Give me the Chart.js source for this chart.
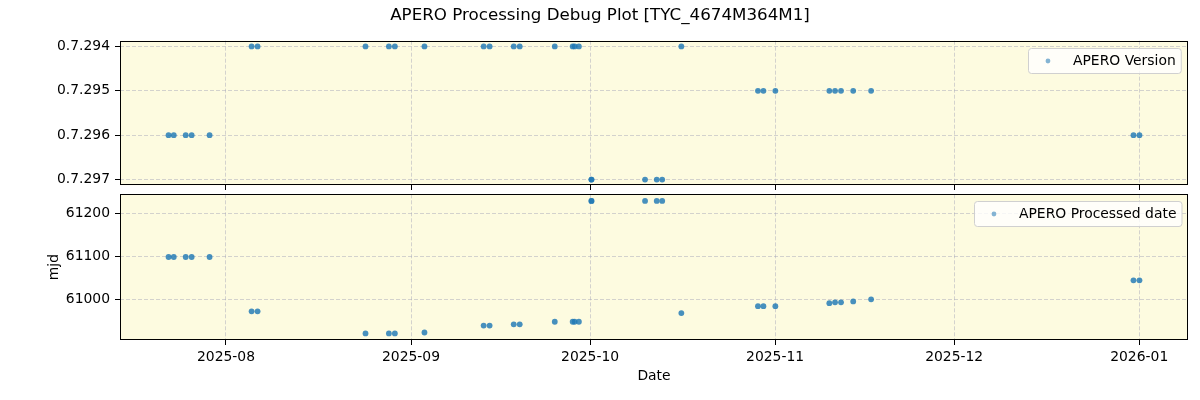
<!DOCTYPE html>
<html>
<head>
<meta charset="utf-8">
<script src="https://cdn.jsdelivr.net/npm/chart.js@4/dist/chart.umd.min.js"></script>
<style>
  html, body { margin: 0; padding: 0; background: #fff; }
  #wrap { position: relative; width: 1200px; height: 400px; }
  .box { position: absolute; left: 0; width: 1200px; }
</style>
</head>
<body>
<div id="wrap">
  <div class="box" style="top:0;height:190px"><canvas id="topChart"></canvas></div>
  <div class="box" style="top:190px;height:210px"><canvas id="bottomChart"></canvas></div>
</div>
<script>
// observation dates (UTC)
const obsDates = [
  '2025-07-22T09:00', '2025-07-23T06:00', '2025-07-25T06:00', '2025-07-26T06:00', '2025-07-29T06:00',
  '2025-08-05T07:00', '2025-08-06T07:00', '2025-08-24T09:00', '2025-08-28T07:00', '2025-08-29T07:00',
  '2025-09-03T06:00', '2025-09-13T04:00', '2025-09-14T04:00', '2025-09-18T05:00', '2025-09-19T05:00',
  '2025-09-25T02:00', '2025-09-28T02:00', '2025-09-28T10:00', '2025-09-29T03:00',
  '2025-10-01T05:00', '2025-10-01T06:00', '2025-10-10T05:00', '2025-10-12T04:00', '2025-10-13T02:00',
  '2025-10-16T07:00', '2025-10-29T03:00', '2025-10-30T01:00', '2025-11-01T01:00',
  '2025-11-10T02:00', '2025-11-11T01:00', '2025-11-12T01:00', '2025-11-14T02:00', '2025-11-17T02:00',
  '2025-12-31T01:00', '2026-01-01T01:00'
];
const versions = [
  '0.7.296', '0.7.296', '0.7.296', '0.7.296', '0.7.296',
  '0.7.294', '0.7.294', '0.7.294', '0.7.294', '0.7.294',
  '0.7.294', '0.7.294', '0.7.294', '0.7.294', '0.7.294',
  '0.7.294', '0.7.294', '0.7.294', '0.7.294',
  '0.7.297', '0.7.297', '0.7.297', '0.7.297', '0.7.297',
  '0.7.294', '0.7.295', '0.7.295', '0.7.295',
  '0.7.295', '0.7.295', '0.7.295', '0.7.295', '0.7.295',
  '0.7.296', '0.7.296'
];
const mjdValues = [
  61098, 61098, 61098, 61098, 61098,
  60972, 60972, 60921, 60921, 60921,
  60923, 60939, 60939, 60942, 60942,
  60948, 60948, 60948, 60948,
  61228, 61228, 61228, 61228, 61228,
  60968, 60984, 60984, 60984,
  60991, 60993, 60993, 60995, 61000,
  61044, 61044
];
const versionLabels = ['0.7.294', '0.7.295', '0.7.296', '0.7.297'];
const mjdTicks = [61000, 61100, 61200];
const monthTicks = ['2025-08-01', '2025-09-01', '2025-10-01', '2025-11-01', '2025-12-01', '2026-01-01'];

Chart.defaults.font.family = 'DejaVu Sans';
Chart.defaults.font.size = 13.9;
Chart.defaults.color = '#000';

const xs = obsDates.map(d => Date.parse(d + 'Z'));
const xLo = Math.min(...xs), xHi = Math.max(...xs);
const xMin = xLo - 0.05 * (xHi - xLo), xMax = xHi + 0.05 * (xHi - xLo);
const mLo = Math.min(...mjdValues), mHi = Math.max(...mjdValues);
const mMin = mLo - 0.05 * (mHi - mLo), mMax = mHi + 0.05 * (mHi - mLo);

const pointColor = 'rgba(31,119,180,0.82)';
const gridColor = 'rgba(170,170,185,0.5)';

const areaPlugin = {
  id: 'area',
  beforeDraw(chart) {
    const a = chart.chartArea, ctx = chart.ctx;
    ctx.save();
    ctx.fillStyle = '#fdfbe0';
    ctx.fillRect(a.left, a.top, a.right - a.left, a.bottom - a.top);
    ctx.restore();
  },
  afterDraw(chart, args, opts) {
    const a = chart.chartArea, ctx = chart.ctx;
    ctx.save();
    ctx.strokeStyle = '#000';
    ctx.lineWidth = 1;
    const l = Math.round(a.left) + 0.5, t = Math.round(a.top) + 0.5;
    const r = Math.round(a.right) - 0.5, b = Math.round(a.bottom) - 0.5;
    ctx.strokeRect(l, t, r - l, b - t);

    // legend in the upper right corner
    const fs = 13.9;
    ctx.font = fs + 'px "DejaVu Sans"';
    const tw = ctx.measureText(opts.label).width;
    const pad = 0.4 * fs, handle = 2 * fs, gap = 0.8 * fs;
    const w = pad + handle + gap + tw + pad, h = 25;
    const bx = Math.round(a.right - 0.5 * fs - w) + 0.5, by = Math.round(a.top + 0.5 * fs) + 0.5;
    ctx.fillStyle = 'rgba(255,255,255,0.8)';
    ctx.strokeStyle = '#d0d0d0';
    ctx.beginPath();
    ctx.roundRect(bx, by, w, h, 3);
    ctx.fill();
    ctx.stroke();
    ctx.fillStyle = 'rgba(31,119,180,0.55)';
    ctx.beginPath();
    ctx.arc(bx + pad + handle / 2, by + h / 2, 2.4, 0, Math.PI * 2);
    ctx.fill();
    ctx.fillStyle = '#000';
    ctx.textBaseline = 'middle';
    ctx.fillText(opts.label, bx + pad + handle + gap, by + h / 2 + 0.5);
    ctx.restore();
  }
};

function gridOpts() {
  return { color: gridColor, lineWidth: 1, tickLength: 5, tickColor: '#000', tickWidth: 1, tickBorderDash: [] };
}

function xAxis(showLabels) {
  return {
    type: 'linear',
    min: xMin,
    max: xMax,
    afterBuildTicks: s => { s.ticks = monthTicks.map(d => ({ value: Date.parse(d) })); },
    ticks: {
      display: showLabels,
      padding: 4,
      maxRotation: 0,
      autoSkip: false,
      callback: v => new Date(v).toISOString().slice(0, 7)
    },
    grid: gridOpts(),
    border: { display: false, dash: [4, 2] },
    title: { display: showLabels, text: 'Date', padding: { top: 0, bottom: 15.7 } },
    afterFit: s => {
      s.height = showLabels ? 60 : 4.7;
      s.paddingLeft = 0;
      s.paddingRight = 12;
    }
  };
}

function pointStyle() {
  return {
    pointRadius: 2.9,
    pointBackgroundColor: pointColor,
    pointBorderWidth: 0,
    showLine: false
  };
}

new Chart(document.getElementById('topChart'), {
  type: 'scatter',
  data: {
    datasets: [Object.assign({
      label: 'APERO Version',
      data: xs.map((x, i) => ({ x: x, y: versionLabels.indexOf(versions[i]) }))
    }, pointStyle())]
  },
  options: {
    responsive: true,
    maintainAspectRatio: false,
    animation: false,
    layout: { padding: 0 },
    plugins: {
      legend: { display: false },
      tooltip: { enabled: false },
      title: {
        display: true,
        text: 'APERO Processing Debug Plot [TYC_4674M364M1]',
        color: '#000',
        font: { size: 16.7, weight: 'normal', lineHeight: 1.2 },
        padding: { top: 6, bottom: 14.66 }
      },
      area: { label: 'APERO Version' }
    },
    scales: {
      x: xAxis(false),
      y: {
        type: 'linear',
        reverse: true,
        min: -0.13,
        max: 3.13,
        afterBuildTicks: s => { s.ticks = versionLabels.map((_, i) => ({ value: i })); },
        ticks: { padding: 5, callback: v => versionLabels[v] },
        grid: gridOpts(),
        border: { display: false, dash: [4, 2] },
        afterFit: s => { s.width = 120; s.paddingTop = 0; s.paddingBottom = 0; }
      }
    }
  },
  plugins: [areaPlugin]
});

new Chart(document.getElementById('bottomChart'), {
  type: 'scatter',
  data: {
    datasets: [Object.assign({
      label: 'APERO Processed date',
      data: xs.map((x, i) => ({ x: x, y: mjdValues[i] }))
    }, pointStyle())]
  },
  options: {
    responsive: true,
    maintainAspectRatio: false,
    animation: false,
    layout: { padding: 0 },
    plugins: {
      legend: { display: false },
      tooltip: { enabled: false },
      area: { label: 'APERO Processed date' }
    },
    scales: {
      x: xAxis(true),
      y: {
        type: 'linear',
        min: mMin,
        max: mMax,
        afterBuildTicks: s => { s.ticks = mjdTicks.map(v => ({ value: v })); },
        ticks: { padding: 5, callback: v => String(v) },
        grid: gridOpts(),
        border: { display: false, dash: [4, 2] },
        title: { display: true, text: 'mjd', padding: { top: 46, bottom: 0 } },
        afterFit: s => { s.width = 120; s.paddingTop = 4.3; s.paddingBottom = 0; }
      }
    }
  },
  plugins: [areaPlugin]
});
</script>
</body>
</html>
